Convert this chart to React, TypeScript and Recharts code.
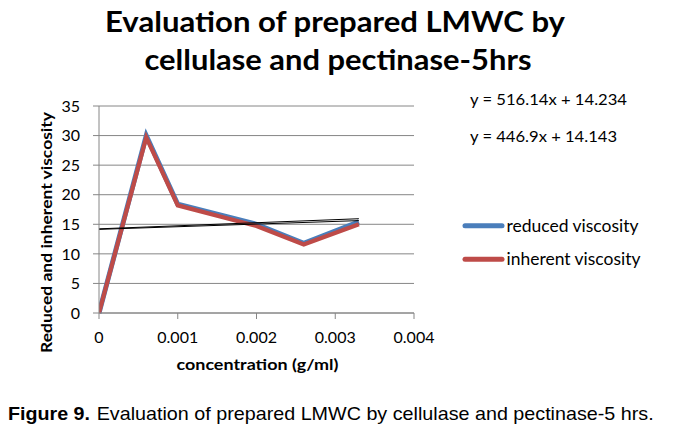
import React from 'react';
import {
  LineChart,
  Line,
  XAxis,
  YAxis,
  CartesianGrid,
} from 'recharts';

const concentration = [0, 0.0006, 0.001, 0.002, 0.0026, 0.0033];
const reducedViscosity = [0, 30.0, 18.4, 15.0, 11.8, 15.4];
const inherentViscosity = [0, 29.7, 18.2, 14.7, 11.6, 15.0];

// trendline end points (x = 0 and x = 0.0033), from the equations on the chart
const trendX = [0, 0.0033];
const reducedTrend = [14.23, 15.94];
const inherentTrend = [14.14, 15.62];

const equations = ['y = 516.14x + 14.234', 'y = 446.9x + 14.143'];
const xTicks = [0, 0.001, 0.002, 0.003, 0.004];
const yTicks = [0, 5, 10, 15, 20, 25, 30, 35];

const BLUE = '#4a7ebb';
const RED = '#be4b48';
const GRID = '#868686';
const FONT = 'Lato, "Open Sans", sans-serif';
const CAPTION_FONT = '"Liberation Sans", Arial, sans-serif';

const data = concentration.map((x, i) => ({
  x,
  reduced: reducedViscosity[i],
  inherent: inherentViscosity[i],
}));
const reducedTrendData = trendX.map((x, i) => ({ x, y: reducedTrend[i] }));
const inherentTrendData = trendX.map((x, i) => ({ x, y: inherentTrend[i] }));

const legendItems = [
  { name: 'reduced viscosity', color: BLUE, len: 132 },
  { name: 'inherent viscosity', color: RED, len: 134 },
];

export default function App() {
  return (
    <div
      style={{
        position: 'absolute',
        left: 0,
        top: 0,
        width: 677,
        height: 438,
        background: '#fff',
      }}
    >
      <LineChart
        width={677}
        height={438}
        data={data}
        margin={{ top: 106, right: 263, bottom: 95, left: 54 }}
        style={{ position: 'absolute', left: 0, top: 0 }}
      >
        <CartesianGrid horizontal vertical={false} stroke={GRID} />
        <XAxis
          dataKey="x"
          type="number"
          domain={[0, 0.004]}
          ticks={xTicks}
          height={30}
          stroke={GRID}
          tickSize={6}
          tickMargin={13}
          tick={{ fill: '#000', fontSize: 16, fontFamily: FONT }}
          tickFormatter={(v: number) => String(v)}
          allowDataOverflow
        />
        <YAxis
          type="number"
          domain={[0, 35]}
          ticks={yTicks}
          width={45}
          stroke={GRID}
          tickSize={6}
          tickMargin={13}
          tick={{ fill: '#000', fontSize: 16, fontFamily: FONT }}
        />
        <Line
          type="linear"
          dataKey="reduced"
          stroke={BLUE}
          strokeWidth={5}
          dot={false}
          isAnimationActive={false}
        />
        <Line
          type="linear"
          dataKey="inherent"
          stroke={RED}
          strokeWidth={4.2}
          dot={false}
          isAnimationActive={false}
        />
        <Line
          data={reducedTrendData}
          type="linear"
          dataKey="y"
          stroke="#000"
          strokeWidth={1}
          dot={false}
          isAnimationActive={false}
        />
        <Line
          data={inherentTrendData}
          type="linear"
          dataKey="y"
          stroke="#000"
          strokeWidth={1}
          dot={false}
          isAnimationActive={false}
        />
      </LineChart>

      <svg
        width={677}
        height={438}
        style={{ position: 'absolute', left: 0, top: 0, pointerEvents: 'none' }}
        fontFamily={FONT}
      >
        {/* title */}
        <text x={335} y={32} textAnchor="middle" fontSize={29} fontWeight={700} textLength={460} lengthAdjust="spacingAndGlyphs">
          Evaluation of prepared LMWC by
        </text>
        <text x={338} y={70} textAnchor="middle" fontSize={29} fontWeight={700} textLength={387} lengthAdjust="spacingAndGlyphs">
          cellulase and pectinase-5hrs
        </text>

        {/* axis titles */}
        <text
          x={51.5}
          y={232.5}
          transform="rotate(-90, 51.5, 232.5)"
          textAnchor="middle"
          fontSize={16}
          fontWeight={700}
          textLength={241}
          lengthAdjust="spacingAndGlyphs"
        >
          Reduced and inherent viscosity
        </text>
        <text x={257.5} y={370} textAnchor="middle" fontSize={16} fontWeight={700} textLength={162} lengthAdjust="spacingAndGlyphs">
          concentration (g/ml)
        </text>

        {/* trendline equations */}
        {equations.map((eq, i) => (
          <text key={eq} x={470} y={105 + i * 36.7} fontSize={16} textLength={i === 0 ? 157 : 147} lengthAdjust="spacingAndGlyphs">
            {eq}
          </text>
        ))}

        {/* legend */}
        {legendItems.map((item, i) => (
          <g key={item.name}>
            <line
              x1={465}
              x2={502}
              y1={225.7 + i * 33.6}
              y2={225.7 + i * 33.6}
              stroke={item.color}
              strokeWidth={5}
              strokeLinecap="round"
            />
            <text x={506.5} y={231.7 + i * 33.4} fontSize={17} textLength={item.len} lengthAdjust="spacingAndGlyphs">
              {item.name}
            </text>
          </g>
        ))}

        {/* figure caption */}
        <text x={8} y={420} fontFamily={CAPTION_FONT} fontSize={19} fontWeight={700} textLength={82} lengthAdjust="spacingAndGlyphs">
          Figure 9.
        </text>
        <text x={96.7} y={420} fontFamily={CAPTION_FONT} fontSize={19} textLength={557} lengthAdjust="spacingAndGlyphs">
          Evaluation of prepared LMWC by cellulase and pectinase-5 hrs.
        </text>
      </svg>
    </div>
  );
}
